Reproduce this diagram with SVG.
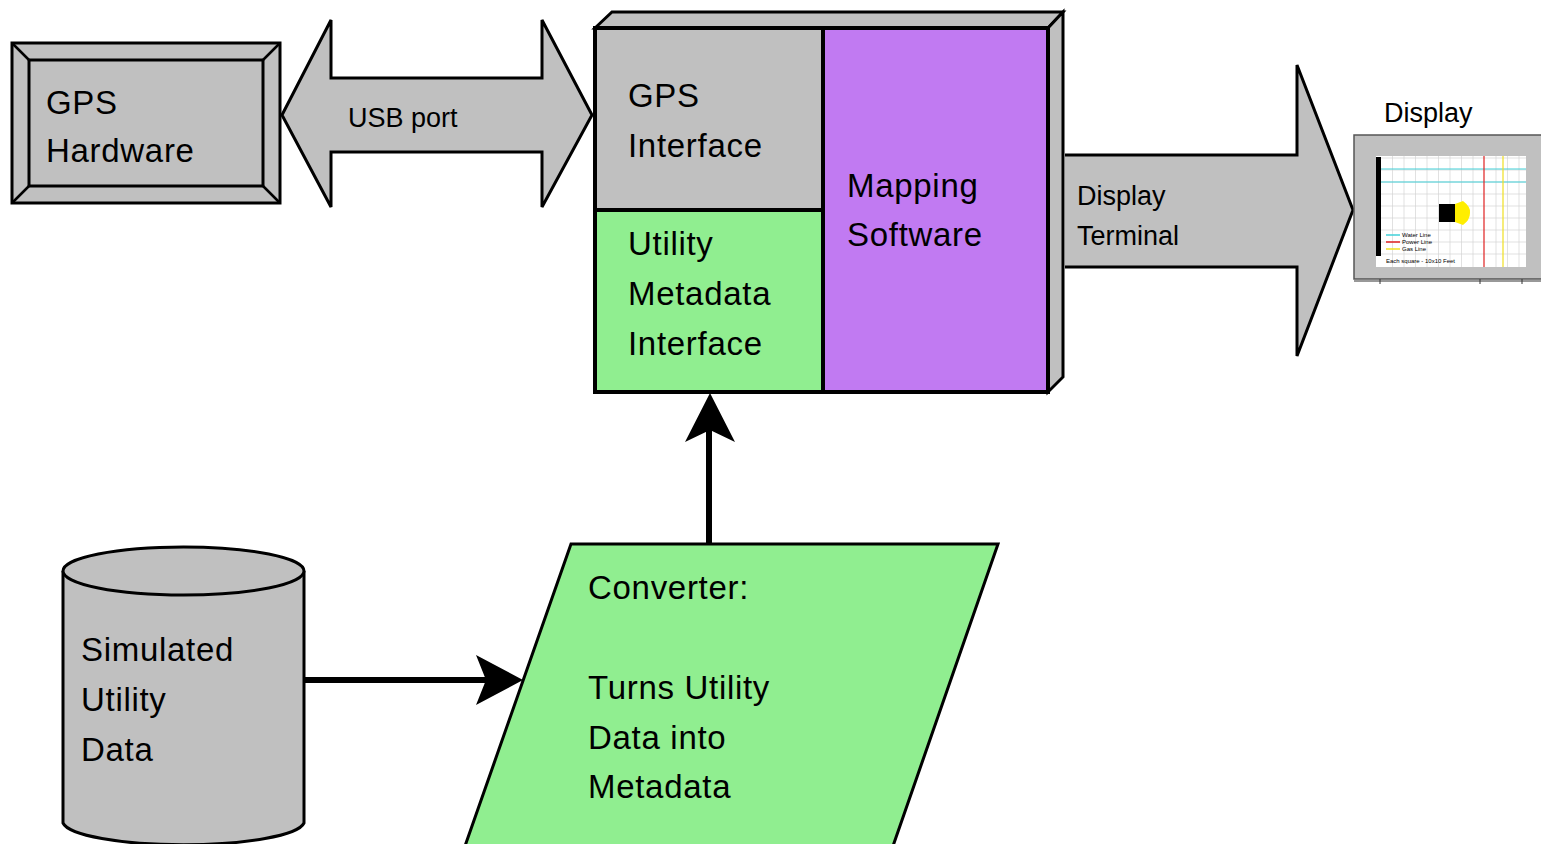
<svg xmlns="http://www.w3.org/2000/svg" width="1541" height="844" viewBox="0 0 1541 844">
<defs>
<style>
.t{font-family:"Liberation Sans",Arial,sans-serif;fill:#000}
.big{font-size:33px;letter-spacing:0.7px}
.mid{font-size:27px}
.tiny{font-size:6px}
.g{fill:#c0c0c0;stroke:#000;stroke-width:3;stroke-linejoin:miter}
.gr{fill:#90ee90;stroke:#000;stroke-width:3}
.pu{fill:#c17af2;stroke:#000;stroke-width:4}
.ln{stroke:#000;stroke-width:2.5;fill:none}
</style>
</defs>
<rect width="1541" height="844" fill="#fff"/>

<g id="gps-hardware">
<rect class="g" x="12" y="43" width="268" height="160"/>
<rect class="g" x="29" y="60" width="234" height="126"/>
<path class="ln" d="M12 43L29 60M280 43L263 60M12 203L29 186M280 203L263 186"/>
<text class="t big" x="46" y="114">GPS</text>
<text class="t big" x="46" y="162">Hardware</text>
</g>

<g id="usb-port">
<path class="g" d="M282 115L331 20V78H542V20L592 115L542 207V152H331V207Z"/>
<text class="t mid" x="348" y="127">USB port</text>
</g>

<g id="main-block">
<path class="g" d="M595 28L612 12H1063L1048 28Z"/>
<path class="g" d="M1048 28L1063 12V377L1048 392Z"/>
<rect x="595" y="28" width="228" height="182" fill="#c0c0c0" stroke="#000" stroke-width="3"/>
<rect x="595" y="210" width="228" height="182" fill="#90ee90" stroke="#000" stroke-width="4"/>
<rect x="823" y="28" width="225" height="364" class="pu"/>
<rect x="595" y="28" width="453" height="364" fill="none" stroke="#000" stroke-width="4"/>
<text class="t big" x="628" y="107">GPS</text>
<text class="t big" x="628" y="157">Interface</text>
<text class="t big" x="628" y="255">Utility</text>
<text class="t big" x="628" y="305">Metadata</text>
<text class="t big" x="628" y="355">Interface</text>
<text class="t big" x="847" y="197">Mapping</text>
<text class="t big" x="847" y="246">Software</text>
</g>

<g id="display-terminal">
<path class="g" d="M1065 155H1297V65L1353 210L1297 356V267H1065"/>
<text class="t mid" x="1077" y="205">Display</text>
<text class="t mid" x="1077" y="245">Terminal</text>
</g>

<g id="display">
<text class="t mid" x="1384" y="122">Display</text>
<rect x="1354" y="135" width="190" height="144" fill="#c0c0c0" stroke="#555" stroke-width="1.5"/>
<path d="M1354 281H1541M1380 279V284M1480 279V284M1522 279V284" stroke="#333" stroke-width="1" fill="none"/>
<rect x="1376" y="156" width="150" height="111" fill="#fff"/>
<path d="M1392.5 156V267M1404 156V267M1415.5 156V267M1427 156V267M1438.5 156V267M1450 156V267M1461.5 156V267M1473 156V267M1496 156V267M1507.5 156V267M1519 156V267M1381 158H1526M1381 170H1526M1381 182H1526M1381 194H1526M1381 206H1526M1381 218H1526M1381 230H1526M1381 242H1526M1381 254H1526" stroke="#d4d4d4" stroke-width="0.7" fill="none"/>
<rect x="1376" y="157" width="5" height="99" fill="#000"/>
<path d="M1381 169H1526M1381 182H1526" stroke="#40d0d8" stroke-width="1.2"/>
<path d="M1484 156V267" stroke="#e02020" stroke-width="1.2"/>
<path d="M1503 156V267" stroke="#f0e020" stroke-width="1.2"/>
<rect x="1439" y="204" width="16" height="18" fill="#000"/>
<path d="M1455 204L1463 201Q1471 207 1470 213Q1470 220 1463 225L1455 222Z" fill="#ffee00"/>
<path d="M1386 235H1400" stroke="#40d0d8" stroke-width="1.5"/>
<path d="M1386 242H1400" stroke="#e02020" stroke-width="1.5"/>
<path d="M1386 249H1400" stroke="#f0e020" stroke-width="1.5"/>
<text class="t tiny" x="1402" y="237">Water Line</text>
<text class="t tiny" x="1402" y="244">Power Line</text>
<text class="t tiny" x="1402" y="251">Gas Line</text>
<text class="t tiny" x="1386" y="263">Each square - 10x10 Feet</text>
</g>

<g id="simulated-utility-data">
<path d="M63 571V823A121 24 0 0 0 304 823V571" fill="#c0c0c0" stroke="#000" stroke-width="3"/>
<ellipse cx="183.5" cy="571" rx="120.5" ry="24" fill="#c0c0c0" stroke="#000" stroke-width="3"/>
<text class="t big" x="81" y="661">Simulated</text>
<text class="t big" x="81" y="711">Utility</text>
<text class="t big" x="81" y="761">Data</text>
</g>

<g id="converter">
<path class="gr" d="M571 544H998L893 846H465Z"/>
<text class="t big" x="588" y="599">Converter:</text>
<text class="t big" x="588" y="699">Turns Utility</text>
<text class="t big" x="588" y="749">Data into</text>
<text class="t big" x="588" y="798">Metadata</text>
</g>

<g id="connectors">
<path d="M304 680H488" stroke="#000" stroke-width="6"/>
<path d="M523 680L476 655L486 680L476 705Z" fill="#000"/>
<path d="M709 544V425" stroke="#000" stroke-width="6"/>
<path d="M710 393L685 442L710 430L735 442Z" fill="#000"/>
</g>
</svg>
